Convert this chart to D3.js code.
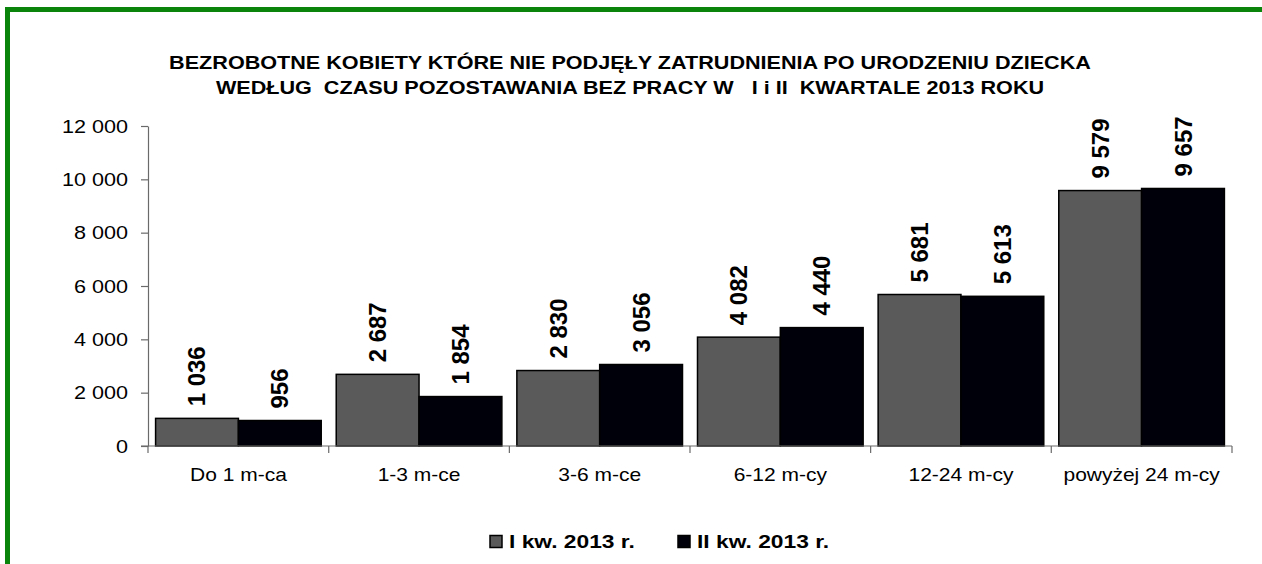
<!DOCTYPE html>
<html>
<head>
<meta charset="utf-8">
<script src="https://cdn.jsdelivr.net/npm/d3@7"></script>
<style>
  html, body { margin: 0; padding: 0; background: #fff; }
  svg { display: block; font-family: "Liberation Sans", Arial, sans-serif; }
</style>
</head>
<body>
<svg id="chart" width="1262" height="564"></svg>
<script>
// Czas pozostawania bez pracy
const categories = ["Do 1 m-ca", "1-3 m-ce", "3-6 m-ce", "6-12 m-cy", "12-24 m-cy", "powyżej 24 m-cy"];
const seriesNames = ["I kw. 2013 r.", "II kw. 2013 r."];
const q1Values = [1036, 2687, 2830, 4082, 5681, 9579];
const q2Values = [956, 1854, 3056, 4440, 5613, 9657];
const yTicks = [0, 2000, 4000, 6000, 8000, 10000, 12000];
const titleLines = [
  "BEZROBOTNE KOBIETY KTÓRE NIE PODJĘŁY ZATRUDNIENIA PO URODZENIU DZIECKA",
  "WEDŁUG  CZASU POZOSTAWANIA BEZ PRACY W   I i II  KWARTALE 2013 ROKU"
];

const colors = ["#5a5a5a", "#00000a"];
const seriesValues = [q1Values, q2Values];
const SX = 1.2; // poziome rozciągnięcie napisów

const svg = d3.select("#chart");

// Ramka wykresu (zielona)
svg.append("path")
  .attr("d", "M7.5,564 L7.5,9.5 L1262,9.5")
  .attr("fill", "none")
  .attr("stroke", "#0a840a")
  .attr("stroke-width", 5);

// Pomocnik: tekst rozciągnięty w poziomie
function wideText(g, x, y, txt, size, anchor, bold) {
  return g.append("text")
    .attr("transform", `translate(${x},${y}) scale(${SX},1)`)
    .attr("text-anchor", anchor)
    .attr("font-size", size)
    .attr("font-weight", bold ? "bold" : "normal")
    .attr("fill", "#000")
    .style("white-space", "pre")
    .text(txt);
}

// Tytuł
const titleG = svg.append("g");
titleLines.forEach((line, i) => wideText(titleG, 630, 68.5 + i * 25, line, 18, "middle", true));

const margin = { left: 148, right: 1232, top: 126, bottom: 446 };

const x = d3.scaleBand()
  .domain(categories)
  .range([margin.left, margin.right])
  .paddingInner(0.083)
  .paddingOuter(0.042);

const xs = d3.scaleBand()
  .domain(d3.range(seriesNames.length))
  .range([0, x.bandwidth()]);

const y = d3.scaleLinear()
  .domain([0, 12000])
  .range([margin.bottom, margin.top]);

const fmt = v => d3.format(",")(v).replace(/,/g, " ");

// Oś Y
const yAxis = svg.append("g")
  .attr("transform", `translate(${margin.left},0)`)
  .call(d3.axisLeft(y).tickValues(yTicks).tickSize(7).tickSizeOuter(0).tickFormat(""));
yAxis.select(".domain").attr("stroke", "#6a6a6a").attr("stroke-width", 1.2);
yAxis.selectAll(".tick line").attr("stroke", "#6a6a6a").attr("stroke-width", 1.2);
yAxis.selectAll(".tick text").remove();
const yLabels = svg.append("g");
yTicks.forEach(t => wideText(yLabels, 128, y(t) + 6.5, fmt(t), 18, "end", false));

// Słupki
const groups = svg.append("g").selectAll("g")
  .data(categories)
  .join("g")
  .attr("transform", d => `translate(${x(d)},0)`);

groups.selectAll("rect")
  .data((d, ci) => seriesValues.map((vals, si) => ({ si, v: vals[ci] })))
  .join("rect")
  .attr("x", d => xs(d.si))
  .attr("y", d => y(d.v))
  .attr("width", xs.bandwidth())
  .attr("height", d => y(0) - y(d.v))
  .attr("fill", d => colors[d.si])
  .attr("stroke", "#000")
  .attr("stroke-width", 1.5);

// Etykiety wartości (pionowe)
groups.selectAll("text.val")
  .data((d, ci) => seriesValues.map((vals, si) => ({ si, v: vals[ci] })))
  .join("text")
  .attr("class", "val")
  .attr("transform", d => `translate(${xs(d.si) + xs.bandwidth() / 2 + 8.5},${y(d.v) - 12}) rotate(-90)`)
  .attr("text-anchor", "start")
  .attr("font-weight", "bold")
  .attr("font-size", 24)
  .attr("fill", "#000")
  .text(d => fmt(d.v));

// Oś X
const xAxisG = svg.append("g")
  .attr("transform", `translate(0,${margin.bottom})`);
xAxisG.append("line")
  .attr("x1", margin.left - 7).attr("x2", margin.right)
  .attr("stroke", "#6a6a6a").attr("stroke-width", 1.2);
const boundaries = categories.map((c, i) => i === 0 ? margin.left : x(c) - x.step() * x.paddingInner() / 2);
boundaries.push(margin.right);
xAxisG.selectAll("line.tk")
  .data(boundaries)
  .join("line")
  .attr("class", "tk")
  .attr("x1", d => d).attr("x2", d => d)
  .attr("y1", 0).attr("y2", 7)
  .attr("stroke", "#6a6a6a").attr("stroke-width", 1.2);
categories.forEach(c => wideText(xAxisG, x(c) + x.bandwidth() / 2, 35, c, 17.5, "middle", false));

// Legenda
const legend = svg.append("g");
const legendPos = [490, 678];
seriesNames.forEach((name, i) => {
  legend.append("rect")
    .attr("x", legendPos[i]).attr("y", 535.5)
    .attr("width", 12).attr("height", 12)
    .attr("fill", colors[i])
    .attr("stroke", "#000").attr("stroke-width", 1.5);
  wideText(legend, legendPos[i] + 19, 548, name, 19, "start", true);
});
</script>
</body>
</html>
